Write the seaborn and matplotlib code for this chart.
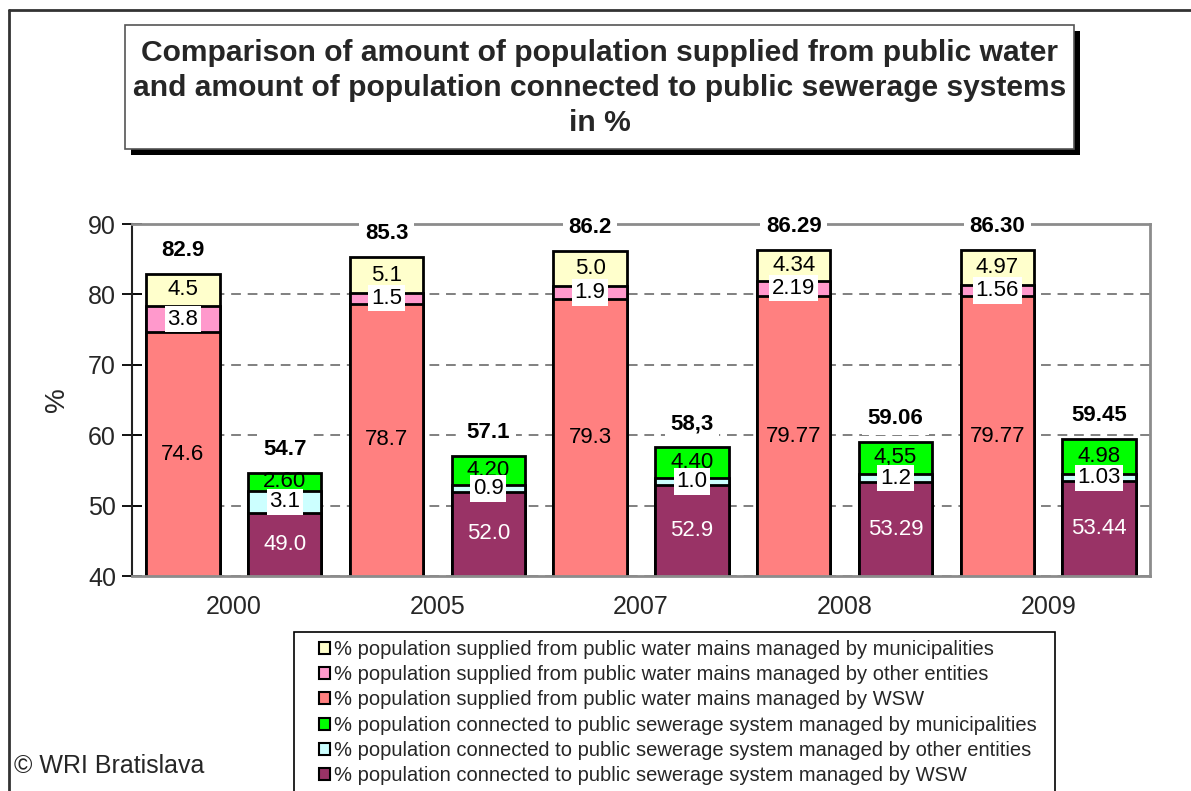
import matplotlib
matplotlib.use("Agg")
import matplotlib.pyplot as plt
from matplotlib.patches import Patch, Rectangle
from matplotlib.lines import Line2D
import pandas as pd
import seaborn as sns

# ---- data -------------------------------------------------------------
years = ["2000", "2005", "2007", "2008", "2009"]

# population supplied from public water mains (%)
water_wsw = ["74.6", "78.7", "79.3", "79.77", "79.77"]
water_other = ["3.8", "1.5", "1.9", "2.19", "1.56"]
water_muni = ["4.5", "5.1", "5.0", "4.34", "4.97"]
water_total = ["82.9", "85.3", "86.2", "86.29", "86.30"]

# population connected to public sewerage systems (%)
sewer_wsw = ["49.0", "52.0", "52.9", "53.29", "53.44"]
sewer_other = ["3.1", "0.9", "1.0", "1.2", "1.03"]
sewer_muni = ["2.60", "4.20", "4,40", "4,55", "4.98"]
sewer_total = ["54.7", "57.1", "58,3", "59.06", "59.45"]

legend_labels = [
    "% population supplied from public water mains managed by municipalities",
    "% population supplied from public water mains managed by other entities",
    "% population supplied from public water mains managed by WSW",
    "% population connected to public sewerage system managed by municipalities",
    "% population connected to public sewerage system managed by other entities",
    "% population connected to public sewerage system managed by WSW",
]

title = ("Comparison of amount of population supplied from public water\n"
         "and amount of population connected to public sewerage systems\n"
         "in %")

# colours: (municipalities, other entities, WSW)
water_colors = ["#FFFFCC", "#FF99CC", "#FF8080"]
sewer_colors = ["#00FF00", "#CCFFFF", "#993366"]


def num(s):
    return float(s.replace(",", "."))


# one row per bar: water and sewerage bars alternate along the x axis
rows = []
for i, yr in enumerate(years):
    for j, (kind, wsw, oth, mun, tot) in enumerate([
        ("water", water_wsw[i], water_other[i], water_muni[i], water_total[i]),
        ("sewer", sewer_wsw[i], sewer_other[i], sewer_muni[i], sewer_total[i]),
    ]):
        base = num(wsw)
        mid = base + num(oth)
        rows.append(dict(slot=str(2 * i + j), kind=kind, year=yr,
                         base=base, mid=mid, top=num(tot),
                         l_base=wsw, l_mid=oth, l_top=mun, l_tot=tot))
df = pd.DataFrame(rows)
order = [str(k) for k in range(len(df))]

# ---- figure -----------------------------------------------------------
W, H = 1191, 791
sns.set_theme(style="white")
plt.rcParams["font.family"] = ["Liberation Sans", "DejaVu Sans"]

fig = plt.figure(figsize=(W / 100, H / 100), dpi=100)
ax = fig.add_axes([132 / W, 1 - 576 / H, (1150 - 132) / W, (576 - 224) / H])

YMIN, YMAX = 40, 90

# stacked bars drawn as cumulative layers, largest first
layers = [("top", 0), ("mid", 1), ("base", 2)]
for col, k in layers:
    sns.barplot(data=df, x="slot", y=col, hue="kind", order=order,
                hue_order=["water", "sewer"],
                palette={"water": water_colors[k], "sewer": sewer_colors[k]},
                dodge=False, width=0.72, saturation=1, errorbar=None,
                edgecolor="black", linewidth=2, legend=False, ax=ax, zorder=2)

ax.set_ylim(YMIN, YMAX)
ax.set_xlim(-0.5, len(df) - 0.5)
ax.set_yticks(range(YMIN, YMAX + 1, 10))
ax.set_xticks([2 * i + 0.5 for i in range(len(years))])
ax.set_xticklabels(years)
ax.set_xlabel("")
ax.set_ylabel("%", fontsize=20, va="center")
ax.yaxis.set_label_coords((57 - 132) / (1150 - 132), 0.5)

ax.yaxis.grid(True, linestyle=(0, (5, 3.5)), color="#808080", linewidth=1.4)
ax.xaxis.grid(False)
ax.set_axisbelow(True)

ax.tick_params(axis="y", direction="inout", length=15, width=1.3,
               color="black", labelsize=18, pad=4, left=True)
ax.tick_params(axis="x", length=0, labelsize=18, pad=13.5)
for s in ["top", "right", "bottom"]:
    ax.spines[s].set_color("#8c8c8c")
    ax.spines[s].set_linewidth(2)
ax.spines["left"].set_color("#222222")
ax.spines["left"].set_linewidth(1.5)

# ---- value labels -----------------------------------------------------
for idx, r in df.iterrows():
    x = idx
    sewer = r["kind"] == "sewer"
    ax.text(x, (YMIN + r["base"]) / 2, r["l_base"], ha="center", va="center",
            fontsize=16, color="white" if sewer else "black", zorder=5)
    ax.text(x, (r["base"] + r["mid"]) / 2, r["l_mid"], ha="center",
            va="center", fontsize=16, color="black", zorder=6,
            bbox=dict(boxstyle="square,pad=0.12", fc="white", ec="none"))
    ax.text(x, (r["mid"] + r["top"]) / 2, r["l_top"], ha="center",
            va="center", fontsize=16, color="black", zorder=5)
    ax.text(x, r["top"] + 3.3, r["l_tot"], ha="center", va="center",
            fontsize=16, fontweight="bold", color="black", zorder=6,
            bbox=dict(boxstyle="square,pad=0.25", fc="white", ec="none"))

# ---- legend -----------------------------------------------------------
fig.add_artist(Rectangle((294 / W, 1 - 800 / H), (1055 - 294) / W,
                         (800 - 632) / H, transform=fig.transFigure,
                         facecolor="white", edgecolor="black", linewidth=1.2,
                         zorder=1))
leg_colors = water_colors + sewer_colors
handles = [Patch(facecolor=c, edgecolor="black", linewidth=1.5)
           for c in leg_colors]
leg = fig.legend(handles, legend_labels, loc="upper left",
                 bbox_to_anchor=(319 / W, 1 - 640 / H),
                 bbox_transform=fig.transFigure, fontsize=14.5,
                 frameon=False, borderaxespad=0, borderpad=0,
                 handlelength=0.55, handleheight=0.55, handletextpad=0.2,
                 labelspacing=0.31)
leg.set_zorder(2)

# ---- title box with drop shadow ---------------------------------------
bx0, by0, bx1, by1 = 125, 25, 1074, 149
sh = 6
fig.add_artist(Rectangle(((bx0 + sh) / W, 1 - (by1 + sh) / H),
                         (bx1 - bx0) / W, (by1 - by0) / H,
                         transform=fig.transFigure, facecolor="black",
                         edgecolor="none", zorder=1))
fig.add_artist(Rectangle((bx0 / W, 1 - by1 / H), (bx1 - bx0) / W,
                         (by1 - by0) / H, transform=fig.transFigure,
                         facecolor="white", edgecolor="#555555",
                         linewidth=1.2, zorder=2))
fig.text((bx0 + bx1) / 2 / W, 1 - 88 / H, title, ha="center", va="center",
         fontsize=21.6, fontweight="bold", linespacing=1.33, zorder=3)

# ---- outer frame and credit -------------------------------------------
fig.add_artist(Line2D([9 / W, 1], [1 - 10 / H, 1 - 10 / H],
                      transform=fig.transFigure, color="#333333", lw=2))
fig.add_artist(Line2D([9 / W, 9 / W], [0, 1 - 10 / H],
                      transform=fig.transFigure, color="#333333", lw=2))
fig.text(14 / W, 1 - 766 / H, "© WRI Bratislava", ha="left", va="center",
         fontsize=18)

fig.savefig("out.png", dpi=100)
